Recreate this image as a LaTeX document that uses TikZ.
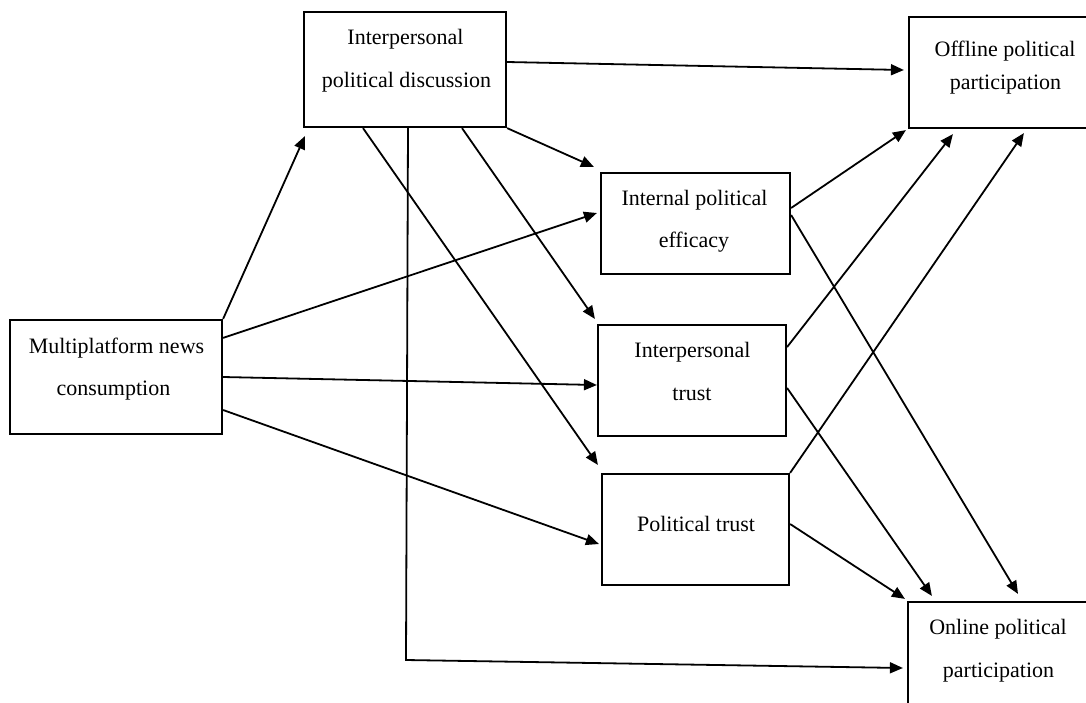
\documentclass[tikz,border=0pt]{standalone}
\usepackage{fontspec}
\setmainfont{Liberation Serif}
\usetikzlibrary{arrows.meta,calc}
\tikzset{
  box/.style={draw=black, line width=2.2pt, rectangle, inner sep=0pt, fill=none},
  lbl/.style={anchor=base, inner sep=0pt, font=\fontsize{22}{26}\selectfont},
  conn/.style={draw=black, line width=1.8pt, -{Triangle[length=13pt,width=11pt]}},
}
\begin{document}
\begin{tikzpicture}[x=1pt,y=-1pt]
\useasboundingbox (0,0) rectangle (1086,702);
\fill[white] (0,0) rectangle (1086,702);
\clip (0,0) rectangle (1086,702);
% boxes
\node[box, minimum width=212pt, minimum height=114pt] (multi) at (116,377) {};
\node[box, minimum width=202pt, minimum height=115pt] (disc) at (405,69.5) {};
\node[box, minimum width=191pt, minimum height=111pt] (offline) at (1004.5,72.5) {};
\node[box, minimum width=189pt, minimum height=101pt] (eff) at (695.5,223.5) {};
\node[box, minimum width=188pt, minimum height=111pt] (itrust) at (692,380.5) {};
\node[box, minimum width=187pt, minimum height=111pt] (ptrust) at (695.5,529.5) {};
\node[box, minimum width=182pt, minimum height=118pt] (online) at (999,661) {};
% labels
\node[lbl] (multiA) at (116.5,353) {Multiplatform news};
\node[lbl] (multiB) at (113.5,395) {consumption};
\node[lbl] (discA) at (405.5,44) {Interpersonal};
\node[lbl] (discB) at (406.5,87) {political discussion};
\node[lbl] (offA) at (1005,56) {Offline political};
\node[lbl] (offB) at (1005.5,89) {participation};
\node[lbl] (effA) at (694.5,205) {Internal political};
\node[lbl] (effB) at (694,247) {efficacy};
\node[lbl] (itA) at (692.5,357) {Interpersonal};
\node[lbl] (itB) at (692,400) {trust};
\node[lbl] (ptA) at (696,531) {Political trust};
\node[lbl] (onA) at (998,634) {Online political};
\node[lbl] (onB) at (998.5,677) {participation};
% connectors
\draw[conn] (multi.north east) -- ($(disc.south west)+(2,8)$);
\draw[conn] ($(multi.north east)+(0,19)$) -- ($(eff.west)+(-3,-10.5)$);
\draw[conn] (multi.east) -- ($(itrust.west)+(0,4.5)$);
\draw[conn] ($(multi.east)+(0,33)$) -- ($(ptrust.west)+(-2,14.5)$);
\draw[conn] ($(disc.east)+(0,-7.5)$) -- ($(offline.west)+(-4,-2.5)$);
\draw[conn] ($(disc.south)+(-42,0)$) -- ($(ptrust.north west)+(-3,-8)$);
\coordinate (bend) at (406,660);
\draw[conn] ($(disc.south)+(3,-2)$) -- (bend) -- ($(online.west)+(-4,7)$);
\draw[conn] ($(disc.south)+(57,0)$) -- ($(itrust.north west)+(-2,-5)$);
\draw[conn] (disc.south east) -- ($(eff.north west)+(-6,-5)$);
\draw[conn] ($(eff.east)+(0,-15.5)$) -- ($(offline.south west)+(-2,1)$);
\draw[conn] ($(eff.east)+(0,-8.5)$) -- ($(online.north)+(19,-7)$);
\draw[conn] ($(itrust.east)+(0,-33.5)$) -- ($(offline.south west)+(45,5)$);
\draw[conn] ($(itrust.east)+(0,7.5)$) -- ($(online.north west)+(25,-5)$);
\draw[conn] (ptrust.north east) -- ($(offline.south west)+(116,4)$);
\draw[conn] ($(ptrust.east)+(0,-5.5)$) -- ($(online.north west)+(-2,-2)$);
\end{tikzpicture}
\end{document}
